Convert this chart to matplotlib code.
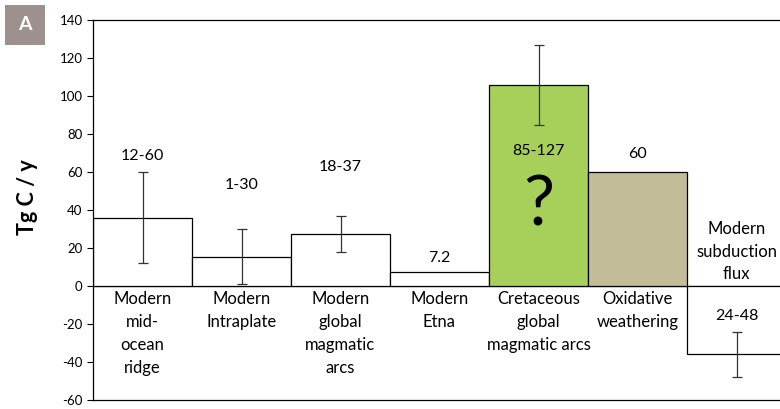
import numpy as np
import matplotlib.pyplot as plt
from matplotlib.patches import Rectangle

plt.rcParams['font.family'] = ['Lato', 'DejaVu Sans']
plt.rcParams['axes.unicode_minus'] = False

# data
categories = ['Modern\nmid-\nocean\nridge', 'Modern\nIntraplate', 'Modern\nglobal\nmagmatic\narcs',
              'Modern\nEtna', 'Cretaceous\nglobal\nmagmatic arcs', 'Oxidative\nweathering', '']
values = [36, 15.5, 27.5, 7.2, 106, 60, -36]
err_low = [12, 1, 18, None, 85, None, -48]
err_high = [60, 30, 37, None, 127, None, -24]
range_labels = ['12-60', '1-30', '18-37', '7.2', '85-127', '60', '24-48']
range_label_y = [68.5, 53, 62.5, 15, 71, 69.5, -16]
bar_colors = ['white', 'white', 'white', 'white', '#a6d05a', '#c3bc99', 'white']
yticks = np.arange(-60, 141, 20)

fig = plt.figure(figsize=(7.8, 4.09), dpi=100)
ax = fig.add_axes([93 / 780, 9 / 409, 693 / 780, 380 / 409])

x = np.arange(len(values))
ax.bar(x, values, width=1.0, color=bar_colors, edgecolor='black', linewidth=0.9, zorder=2)

# error bars (only where a range is given)
for i in range(len(values)):
    if err_low[i] is None:
        continue
    ax.errorbar(x[i], values[i],
                yerr=[[values[i] - err_low[i]], [err_high[i] - values[i]]],
                fmt='none', ecolor='#333333', elinewidth=0.9, capsize=3.5, capthick=0.9, zorder=3)

for i in range(len(values)):
    ax.text(x[i], range_label_y[i], range_labels[i], ha='center', va='center', fontsize=11.5)

ax.text(4, 42, '?', ha='center', va='center', fontsize=50)
ax.text(6, 18, 'Modern\nsubduction\nflux', ha='center', va='center', fontsize=12, linespacing=1.5)

# category labels under zero line
for i in range(len(categories)):
    ax.text(x[i], -2.5, categories[i], ha='center', va='top', fontsize=12, linespacing=1.55)

ax.axhline(0, color='#7f7f7f', linewidth=1, zorder=1)

ax.set_xlim(-0.5, 6.5)
ax.set_ylim(-60, 140)
ax.set_yticks(yticks)
ax.set_xticks([])
ax.tick_params(axis='y', labelsize=9.5, length=4, width=0.8, direction='out')
ax.spines['right'].set_visible(False)
for s in ['left', 'top', 'bottom']:
    ax.spines[s].set_linewidth(0.9)

fig.text(27 / 780, 1 - 197 / 409, 'Tg C / y', rotation=90, ha='center', va='center',
         fontsize=15.5, fontweight='bold')

# panel letter box
fig.add_artist(Rectangle((5 / 780, 1 - 45 / 409), 40 / 780, 40 / 409,
                         transform=fig.transFigure, facecolor='#9c918d', edgecolor='none'))
fig.text(25 / 780, 1 - 25 / 409, 'A', ha='center', va='center', fontsize=14, fontweight='bold',
         color='white')

fig.savefig('out.png', dpi=100)
